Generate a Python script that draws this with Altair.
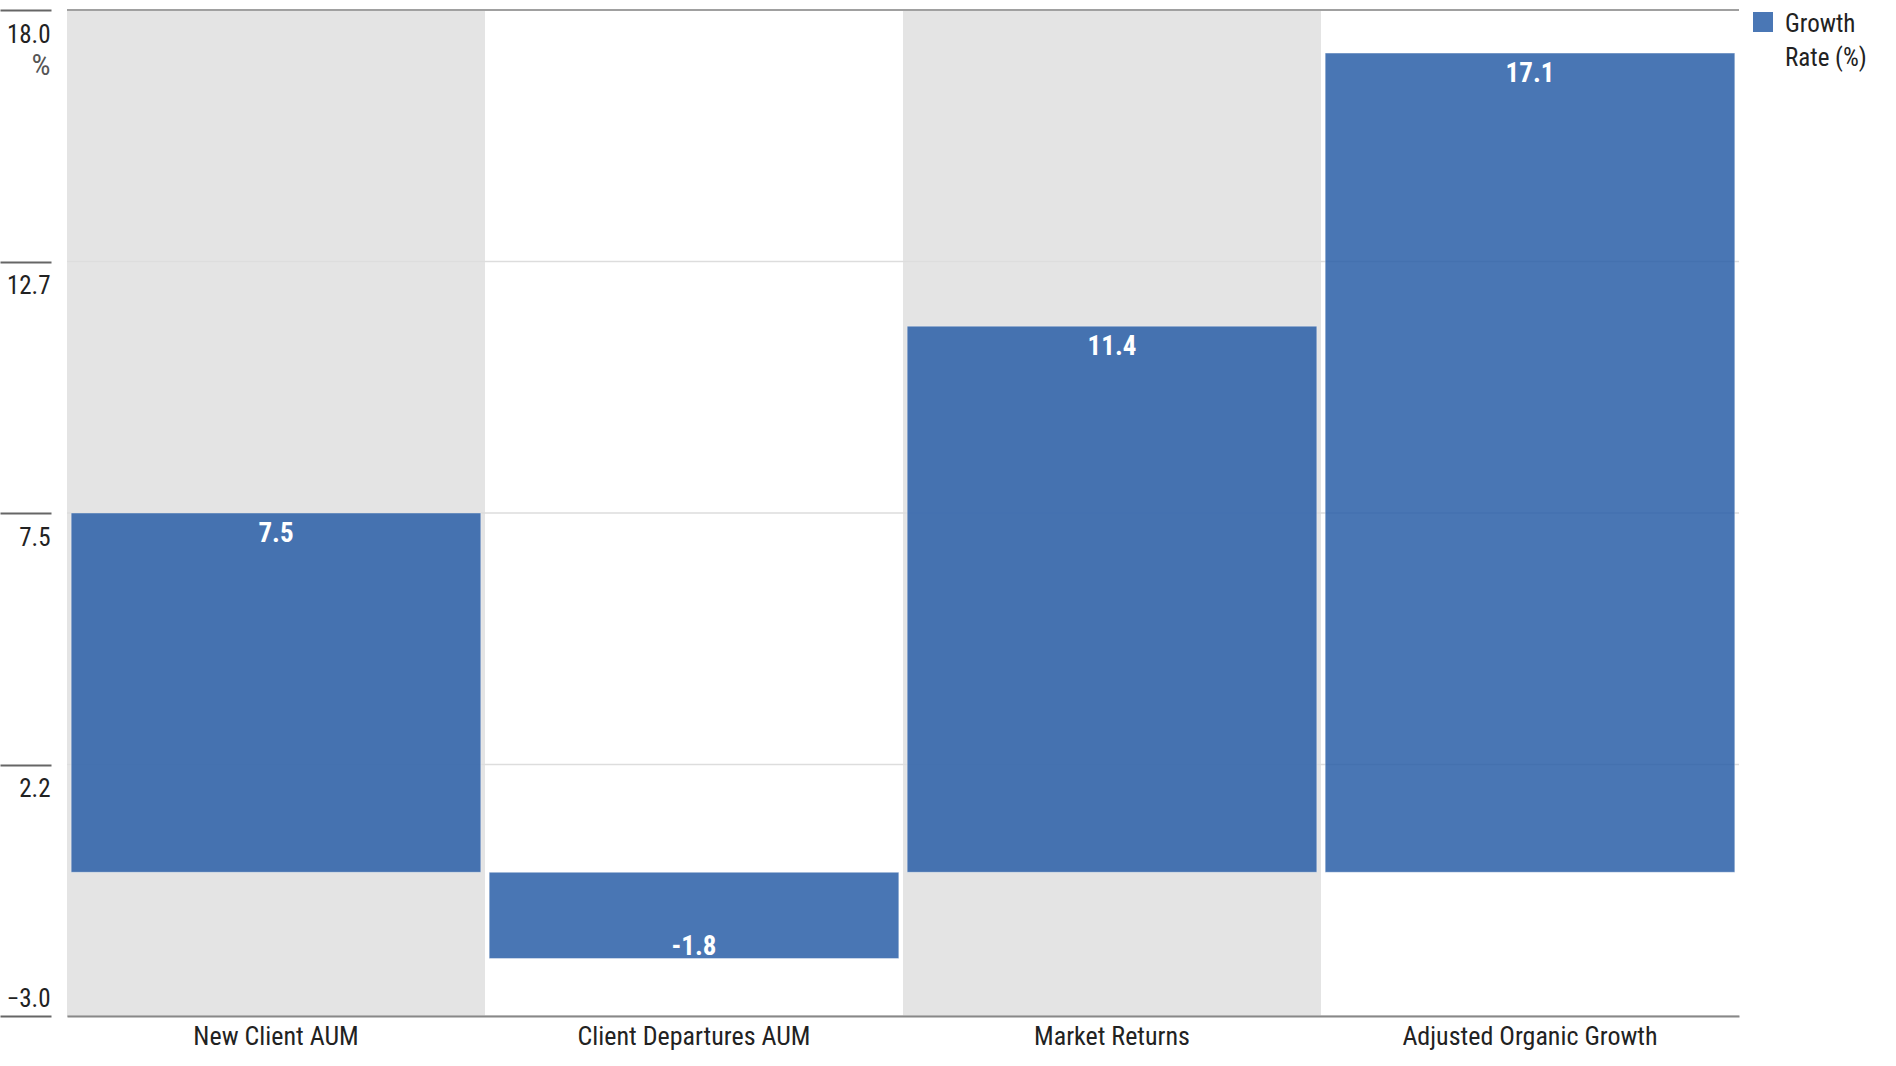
import altair as alt
import pandas as pd

categories = ["New Client AUM", "Client Departures AUM", "Market Returns", "Adjusted Organic Growth"]
values = [7.5, -1.8, 11.4, 17.1]
series_name = "Growth Rate (%)"
legend_lines = ["Growth", "Rate (%)"]
y_ticks = [-3.0, 2.25, 7.5, 12.75, 18.0]
shaded = [True, False, True, False]

FONT = "Liberation Sans Narrow, Roboto Condensed, DejaVu Sans Condensed, Roboto, sans-serif"
W, H = 1672, 1006
BAR_COLOR = "#2a5fa8"

df = pd.DataFrame({"category": categories, "value": values,
                   "series": [series_name] * len(categories), "shaded": shaded})
bg_df = df[df["shaded"]].copy()
bg_df["top"] = max(y_ticks)
bg_df["bottom"] = min(y_ticks)
grid_df = pd.DataFrame({"tick": y_ticks})

xscale = alt.Scale(domain=categories, paddingInner=0, paddingOuter=0)
yscale = alt.Scale(domain=[min(y_ticks), max(y_ticks)], nice=False)

x_axis = alt.Axis(title=None, labelAngle=0, ticks=False, domainColor="#888888", domainWidth=2,
                  labelFont=FONT, labelFontSize=26, labelColor="#222222", labelPadding=7,
                  labelBaseline="top", labelLimit=500)
y_axis = alt.Axis(values=y_ticks, grid=False, domain=False, tickSize=51, tickColor="#666666",
                  tickWidth=2, offset=16, labelPadding=-50, labelAlign="right", labelBaseline="top",
                  labelOffset=alt.condition("datum.value == -3", alt.value(-30), alt.value(12)),
                  labelExpr="format(floor(datum.value*10+0.001)/10, '.1f')",
                  labelFont=FONT, labelFontSize=25, labelColor="#222222", labelOverlap=False,
                  title="%", titleAngle=0, titleX=-1, titleY=40, titleAlign="right",
                  titleBaseline="top", titleFont=FONT, titleFontSize=30, titleFontWeight="normal",
                  titleColor="#555555")

x_enc = alt.X("category:N", scale=xscale, sort=categories, axis=x_axis)

bg = alt.Chart(bg_df).mark_rect(color="#e4e4e4").encode(
    x=x_enc,
    y=alt.Y("top:Q", scale=yscale, axis=y_axis),
    y2="bottom:Q",
)

grid = alt.Chart(grid_df).transform_filter(f"datum.tick < {max(y_ticks)}").mark_rule(
    strokeWidth=1.5, color="#dddddd"
).encode(y=alt.Y("tick:Q", scale=yscale, axis=y_axis))
top_rule = alt.Chart(grid_df).transform_filter(f"datum.tick >= {max(y_ticks)}").mark_rule(
    strokeWidth=2, color="#a0a0a0"
).encode(y=alt.Y("tick:Q", scale=yscale, axis=y_axis))

bars = alt.Chart(df).mark_bar(opacity=0.85, stroke="#ffffff", strokeWidth=1, strokeOpacity=0.4,
                              width=alt.RelativeBandSize(0.98)).encode(
    x=x_enc,
    y=alt.Y("value:Q", scale=yscale, axis=y_axis),
    y2=alt.datum(0),
    color=alt.Color("series:N", scale=alt.Scale(range=[BAR_COLOR]),
                    legend=alt.Legend(title=legend_lines, titleOrient="right", titleAnchor="start",
                                      titleBaseline="top", titleLineHeight=34, titleFont=FONT,
                                      titleFontSize=25, titleFontWeight="normal",
                                      titleColor="#222222", titlePadding=12, titleLimit=300,
                                      orient="none", legendX=1686, legendY=2,
                                      symbolType="square", symbolSize=400, symbolStrokeWidth=0,
                                      symbolOpacity=0.85, labelExpr="''", labelOffset=0,
                                      labelFontSize=1, padding=0)),
)

label_base = alt.Chart(df).transform_calculate(
    label="replace(format(datum.value, '.1f'), '\u2212', '-')"
)
text_pos = label_base.transform_filter("datum.value >= 0").mark_text(
    color="white", font=FONT, fontSize=27, fontWeight="bold", baseline="top", dy=8
).encode(x=x_enc, y=alt.Y("value:Q", scale=yscale, axis=y_axis), text="label:N")
text_neg = label_base.transform_filter("datum.value < 0").mark_text(
    color="white", font=FONT, fontSize=27, fontWeight="bold", baseline="alphabetic", dy=-4
).encode(x=x_enc, y=alt.Y("value:Q", scale=yscale, axis=y_axis), text="label:N")

chart = alt.layer(bg, grid, top_rule, bars, text_pos, text_neg).properties(
    width=W, height=H, autosize="none", background="white",
    padding={"left": 67, "top": 10, "right": 157, "bottom": 50},
).configure_view(stroke=None)

chart.save("out.html", embed_options={"renderer": "svg", "actions": False})
